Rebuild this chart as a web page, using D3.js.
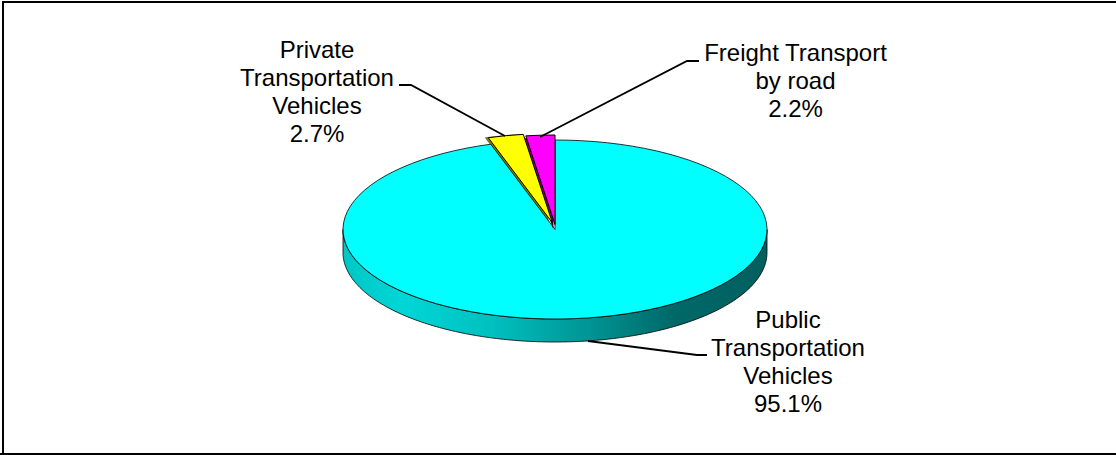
<!DOCTYPE html>
<html><head><meta charset="utf-8">
<script src="https://cdnjs.cloudflare.com/ajax/libs/d3/7.8.5/d3.min.js"></script>
<style>html,body{margin:0;padding:0;background:#fff;overflow:hidden}svg{display:block}</style>
</head><body>
<script>
const categories = ["Public Transportation Vehicles", "Private Transportation Vehicles", "Freight Transport by road"];
const values = [95.1, 2.7, 2.2];
const labelLines = [["Public","Transportation","Vehicles","95.1%"],["Private","Transportation","Vehicles","2.7%"],["Freight Transport","by road","2.2%"]];
const colors = ["#00ffff","#ffff00","#ff00ff"];
const sideColors = ["#00cccc","#807f00","#7f007f"];

const W=1116,H=455, cx=555, cy=229.5, rx=212, ry=89.5, depth=23;
const explode=[[0,0],[-2.5,-6.5],[0,-5]];
const sideShift=[[0,0],[-3,0],[-2,3]];
const labelPos=[[788,328],[317,58],[795.5,61]];
const leaders=[[[707,355],[697,355],[588,341]],[[399,85],[411,85],[505,136]],[[699,61],[687,61],[540,137]]];
const lineH=28;

const svg=d3.select("body").append("svg").attr("width",W).attr("height",H);
const pie=d3.pie().sort(null).value(d=>d)(values);
const arc=d3.arc().innerRadius(0).outerRadius(rx);
const squash=`scale(1,${ry/rx})`;

const grad=svg.append("defs").append("linearGradient").attr("id","rim")
  .attr("gradientUnits","userSpaceOnUse").attr("x1",cx-rx).attr("x2",cx+rx).attr("y1",0).attr("y2",0);
[[0,"#00c6c6"],[0.14,"#00d6d6"],[0.35,"#00c0c0"],[0.6,"#009090"],[0.78,"#006868"],[1,"#005f5f"]]
  .forEach(s=>grad.append("stop").attr("offset",s[0]).attr("stop-color",s[1]));

const frame=[[3,1,3,H],[2,2,W,2],[0,454,W,454]];
svg.selectAll("line.frame").data(frame).join("line").attr("x1",d=>d[0]).attr("y1",d=>d[1]).attr("x2",d=>d[2]).attr("y2",d=>d[3])
  .attr("stroke","#000").attr("stroke-width",2);

const th=d3.range(Math.PI/2,3*Math.PI/2+1e-6,Math.PI/180);
const ex=t=>cx+rx*Math.sin(t), ey=t=>cy-ry*Math.cos(t);
const rimPts=th.map(t=>[ex(t),ey(t)]).concat(th.slice().reverse().map(t=>[ex(t),ey(t)+depth]));
svg.append("path").attr("d",d3.line()(rimPts)+"Z").attr("fill","url(#rim)").attr("stroke","#000").attr("stroke-width",0.8);

const g=i=>`translate(${cx+explode[i][0]+sideShift[i][0]},${cy+explode[i][1]+sideShift[i][1]}) ${squash}`;
svg.append("path").attr("d",arc(pie[1])).attr("transform",`translate(${cx+explode[1][0]-3},${cy+explode[1][1]+8}) ${squash}`).attr("fill",sideColors[1]).attr("stroke","#333").attr("stroke-width",0.6);
svg.append("path").attr("d",arc(pie[1])).attr("transform",g(1)).attr("fill",sideColors[1]).attr("stroke","#333").attr("stroke-width",0.6);

svg.append("path").attr("d",arc(pie[0])).attr("transform",`translate(${cx},${cy}) ${squash}`)
  .attr("fill",colors[0]).attr("stroke","#000").attr("stroke-width",0.8).attr("vector-effect","non-scaling-stroke");

svg.append("path").attr("d",arc(pie[2])).attr("transform",g(2)).attr("fill",sideColors[2]).attr("stroke","#000").attr("stroke-width",0.8).attr("vector-effect","non-scaling-stroke");
[2,1].forEach(i=>svg.append("path").attr("d",arc(pie[i]))
  .attr("transform",`translate(${cx+explode[i][0]},${cy+explode[i][1]}) ${squash}`)
  .attr("fill",colors[i]).attr("stroke","#000").attr("stroke-width",1).attr("vector-effect","non-scaling-stroke"));

svg.selectAll("path.leader").data(leaders).join("path").attr("class","leader")
  .attr("d",d=>d3.line()(d)).attr("fill","none").attr("stroke","#000").attr("stroke-width",1.8);

categories.forEach((c,i)=>{
  const t=svg.append("text").attr("text-anchor","middle").attr("font-family","'Liberation Sans',Arial,sans-serif").attr("font-size",24).attr("fill","#000");
  labelLines[i].forEach((l,j)=>t.append("tspan").attr("x",labelPos[i][0]).attr("y",labelPos[i][1]+j*lineH).text(l));
});
</script>
</body></html>
